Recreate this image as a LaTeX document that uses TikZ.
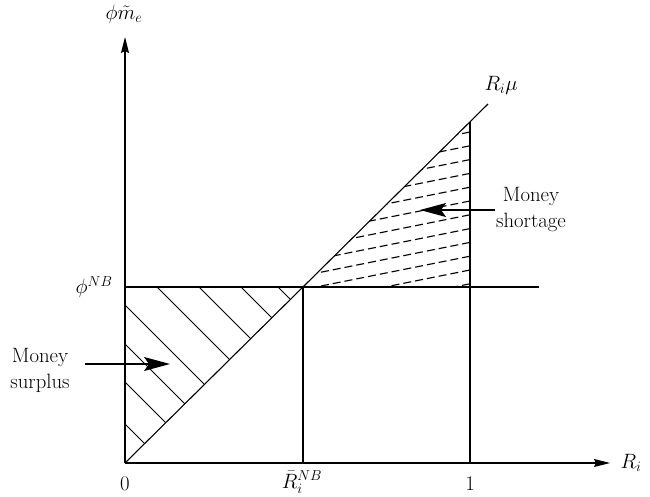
\documentclass[tikz,border=0pt]{standalone}
\usetikzlibrary{arrows.meta}
\begin{document}
\begin{tikzpicture}[x=1pt,y=1pt, line width=1.1pt,
  every node/.style={font=\fontsize{20.74}{26}\selectfont, inner sep=0pt},
  axisarrow/.style={-{Stealth[length=16pt,width=8pt,inset=2pt]}},
  bigarrow/.style={-{Stealth[length=26pt,width=14pt,inset=5pt]}},
  hatch/.style={line width=1pt},
  dhatch/.style={line width=1.1pt, dash pattern=on 8pt off 4pt}]
\useasboundingbox (0,0) rectangle (650,-497);
% key points
\coordinate (O) at (125,-463);
\coordinate (xend) at (610,-463);
\coordinate (yend) at (125,-37);
\coordinate (K) at (303,-287);
\coordinate (Kb) at (303,-463);
\coordinate (P) at (125,-287);
\coordinate (Pend) at (539,-287);
\coordinate (D) at (488,-104);
\coordinate (Q) at (470,-121.8);
\coordinate (Qb) at (470,-463);
\coordinate (Qm) at (470,-287);
% hatching: money surplus
\begin{scope}
  \clip (P) -- (K) -- (O) -- cycle;
  \foreach \c in {-9,-46,-88,-130,-180,-219,-257,-299}
    \draw[hatch] (100,{\c-100}) -- (320,{\c-320});
\end{scope}
% hatching: money shortage
\begin{scope}
  \clip (K) -- (Qm) -- (Q) -- cycle;
  \foreach \k in {0,...,11}
    \draw[dhatch] (470,{-132-13.8*\k}) -- (290,{-132-13.8*\k-36});
\end{scope}
% axes
\draw[axisarrow] (O) -- (xend);
\draw[axisarrow] (O) -- (yend);
% lines
\draw (O) -- (D);
\draw (P) -- (Pend);
\draw (K) -- (Kb);
\draw (Q) -- (Qb);
% labels
\node (ylab) at (124,-14) {$\phi\tilde m_e$};
\node[anchor=west] (xlab) at (620,-463) {$R_i$};
\node (mu) at (501,-85) {$R_i\mu$};
\node[anchor=east] (phinb) at (113,-287) {$\phi^{NB}$};
\node[anchor=base] (zero) at (125,-490) {$0$};
\node[anchor=base] (one) at (470,-490) {$1$};
\node[anchor=base] (rbar) at (302,-488) {$\bar R_i^{NB}$};
\node[align=center] (surplus) at (40,-370) {Money\\surplus};
\node[align=center] (shortage) at (531,-210) {Money\\shortage};
% arrows
\coordinate (sa) at (85,-364);
\coordinate (sb) at (170,-364);
\draw[bigarrow] (sa) -- (sb);
\coordinate (ta) at (495,-210);
\coordinate (tb) at (420,-210);
\draw[bigarrow] (ta) -- (tb);
\end{tikzpicture}
\end{document}
